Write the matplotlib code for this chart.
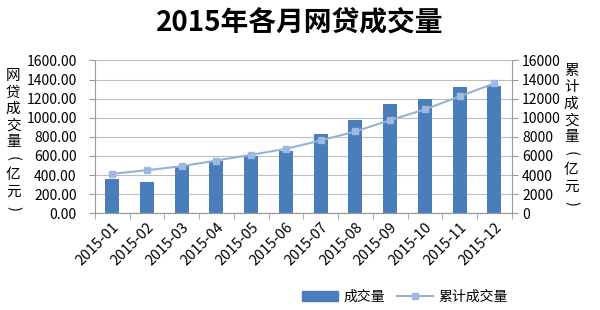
import numpy as np
import matplotlib.pyplot as plt
from matplotlib.lines import Line2D
from matplotlib.patches import Patch

plt.rcParams['font.family'] = ['Noto Sans CJK SC', 'DejaVu Sans']

months = ['2015-01', '2015-02', '2015-03', '2015-04', '2015-05', '2015-06',
          '2015-07', '2015-08', '2015-09', '2015-10', '2015-11', '2015-12']
# monthly volume (100 million yuan)
volume = [357, 332, 490, 545, 598, 657, 825, 972, 1143, 1192, 1325, 1332]
# cumulative volume (100 million yuan)
cumulative = [4126, 4510, 4930, 5524, 6119, 6748, 7622, 8566, 9755, 10874, 12238, 13601]

left_label = '网贷成交量(亿元)'
right_label = '累计成交量(亿元)'

bar_color = '#4a7ebb'
line_color = '#95b3d7'
marker_color = '#9cb9e0'

fig = plt.figure(figsize=(6, 3.1), dpi=100)
ax = fig.add_axes([0.158, 0.312, 0.695, 0.493])
ax2 = ax.twinx()

x = np.arange(len(months))
ax.bar(x, volume, width=0.4, color=bar_color, zorder=3)
ax2.plot(x, cumulative, color=line_color, lw=1.5, marker='s', ms=5,
         markerfacecolor=marker_color, markeredgecolor=marker_color, zorder=4)

ax.set_xlim(-0.5, len(months) - 0.5)
ax.set_ylim(0, 1600)
ax.set_yticks(np.arange(0, 1601, 200))
ax.set_yticklabels([f'{v:.2f}' for v in np.arange(0, 1601, 200)])
ax2.set_ylim(0, 16000)
ax2.set_yticks(np.arange(0, 16001, 2000))

ax.set_xticks(x)
ax.set_xticklabels(months, rotation=45, ha='right', rotation_mode='anchor')
ax.set_xticks(np.arange(-0.5, len(months)), minor=True)
ax.tick_params(axis='x', which='major', length=0, labelsize=10.5, pad=5)
ax.tick_params(axis='x', which='minor', length=4, color='#999999', direction='out')

ax.grid(axis='y', color='#bfbfbf', lw=0.8, zorder=0)
for a in (ax, ax2):
    a.spines['top'].set_visible(False)
    for s in ('left', 'right', 'bottom'):
        a.spines[s].set_color('#999999')
    a.tick_params(axis='y', colors='#999999', labelcolor='black', labelsize=10, length=4)
ax.tick_params(axis='y', pad=9)

ax2.spines['left'].set_visible(False)
ax.spines['right'].set_visible(False)

fig.text(0.5, 0.925, '2015年各月网贷成交量', ha='center', va='center',
         fontsize=20, fontweight='bold')


def vertical_label(text, xpos, ytop, step):
    # stack characters top to bottom, turning the brackets sideways
    for i, ch in enumerate(text):
        rot = -90 if ch in '()' else 0
        fig.text(xpos, ytop - i * step, ch, ha='center', va='center',
                 fontsize=10.5, rotation=rot)


vertical_label(left_label, 0.022, 0.755, 0.0535)
vertical_label(right_label, 0.952, 0.772, 0.0535)

handles = [Patch(color=bar_color),
           Line2D([0], [0], color=line_color, lw=1.5, marker='s', ms=5,
                  markerfacecolor=marker_color, markeredgecolor=marker_color)]
fig.legend(handles, ['成交量', '累计成交量'], loc='center', bbox_to_anchor=(0.675, 0.042),
           ncol=2, frameon=False, fontsize=10, handlelength=2.6, columnspacing=0.8,
           handletextpad=0.4)

fig.savefig('out.png', dpi=100)
